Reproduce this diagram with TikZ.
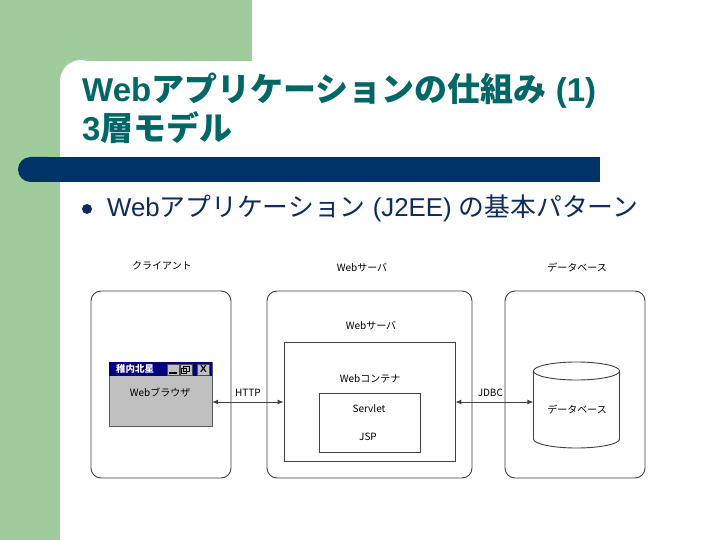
\documentclass[tikz,border=0pt]{standalone}
\usepackage{fontspec}
\setmainfont{Liberation Sans}
\newfontfamily\jp{Noto Sans CJK JP}
\usetikzlibrary{arrows.meta,shapes.geometric}
\definecolor{bggreen}{HTML}{9FCB9D}
\definecolor{titlecol}{HTML}{006666}
\definecolor{barblue}{HTML}{003366}
\definecolor{bulletcol}{HTML}{0D2B5C}
\definecolor{winblue}{HTML}{000080}
\definecolor{wingray}{HTML}{C0C0C0}
\definecolor{linecol}{HTML}{404040}
\tikzset{
  tier/.style={draw=linecol, line width=0.9pt, rounded corners=10pt, inner sep=0pt},
  plainbox/.style={draw=linecol, line width=0.8pt, inner sep=0pt},
  lbl/.style={font=\jp\fontsize{10}{12}\selectfont, text=black, inner sep=0pt},
  conn/.style={{Latex[length=6pt,width=5pt]}-{Latex[length=6pt,width=5pt]}, draw=linecol, line width=0.9pt},
  winbtn/.style={draw=gray!60!black, fill=wingray, minimum width=12pt, minimum height=11pt, inner sep=0pt}
}
\begin{document}
\begin{tikzpicture}[x=1pt,y=-1pt]
\useasboundingbox (0,0) rectangle (720,540);
\fill[white] (0,0) rectangle (720,540);
\fill[bggreen] (0,0) rectangle (252,61);
\fill[bggreen] (0,0) rectangle (60,540);
% rounded inner corner of the white area
\fill[bggreen] (60,60) rectangle (82,82);
\fill[white] (81,81) circle (21pt);
\fill[white] (60,81) rectangle (102,540);
\fill[white] (81,61) rectangle (252,102);
% blue bar
\fill[barblue, rounded corners=12.5pt] (18,157) rectangle (60,182);
\fill[barblue] (40,157) rectangle (600,182);
% title
\node[anchor=base west, inner sep=0pt, text=titlecol, font=\fontsize{33}{36}\selectfont\bfseries] (t1) at (82,102)
  {Web{\jp\bfseries アプリケーションの仕組み} (1)};
\node[anchor=base west, inner sep=0pt, text=titlecol, font=\fontsize{33}{36}\selectfont\bfseries] (t2) at (82,141)
  {3{\jp\bfseries 層モデル}};
% bullet
\fill[bulletcol] (87,209) circle (5pt);
\node[anchor=base west, inner sep=0pt, text=bulletcol, font=\fontsize{25.8}{30}\selectfont] (b1) at (107,217)
  {Web{\jp アプリケーション} (J2EE) {\jp の基本パターン}};
% tier labels
\node[lbl] (lclient) at (162,266) {クライアント};
\node[lbl] (lserver) at (362,268) {Webサーバ};
\node[lbl] (ldb) at (577,268) {データベース};
% tier boxes
\node[tier, minimum width=140pt, minimum height=187pt] (client) at (161,384.5) {};
\node[tier, minimum width=205pt, minimum height=187pt] (server) at (369.5,384.5) {};
\node[tier, minimum width=140pt, minimum height=187pt] (db) at (575,384.5) {};
% server internals
\node[lbl] (lserver2) at (371,326) {Webサーバ};
\node[plainbox, minimum width=171pt, minimum height=119pt] (container) at (369.5,401.5) {};
\node[lbl] (lcont) at (370,379) {Webコンテナ};
\node[plainbox, minimum width=101pt, minimum height=59pt] (inner) at (369.5,422.5) {};
\node[lbl] (servlet) at (369,409) {Servlet};
\node[lbl] (jsp) at (368,437) {JSP};
% browser window
\node[draw=gray!70!black, fill=wingray, minimum width=103pt, minimum height=64pt, inner sep=0pt] (browser) at (160.5,394) {};
\fill[winblue] (109,362) rectangle (212,376);
\node[inner sep=0pt, text=white, font=\jp\bfseries\fontsize{9.5}{11}\selectfont] (wtitle) at (135,369) {稚内北星};
\node[winbtn] (bmin) at (173,369.5) {};
\draw[black, line width=1.2pt] (169,373) -- (177,373);
\node[winbtn] (bmax) at (186,369.5) {};
\draw[black, line width=0.8pt] (183,366.5) rectangle (189,371.5);
\draw[black, line width=0.8pt] (181,368.5) rectangle (186.5,373.5);
\node[winbtn, font=\bfseries\fontsize{10}{11}\selectfont] (bclose) at (203.5,369.5) {X};
\node[lbl] (lbrowser) at (160,393) {Webブラウザ};
% database cylinder
\node[minimum width=86pt, minimum height=86pt, inner sep=0pt] (cyl) at (576.5,405) {};
\draw[linecol, line width=0.9pt] (576.5,371) ellipse [x radius=43pt, y radius=9pt];
\draw[linecol, line width=0.9pt] (533.5,371) -- (533.5,439) arc[start angle=180, end angle=360, x radius=43pt, y radius=9pt] -- (619.5,371);
\node[lbl] (ldb2) at (577,410) {データベース};
% connectors
\coordinate (ay) at (0,402);
\draw[conn] (browser.east |- ay) -- node[lbl, above=5pt] (lhttp) {HTTP} (container.west |- ay);
\draw[conn] (container.east |- ay) -- node[lbl, above=5pt, xshift=-4pt] (ljdbc) {JDBC} (cyl.west |- ay);
\end{tikzpicture}
\end{document}
